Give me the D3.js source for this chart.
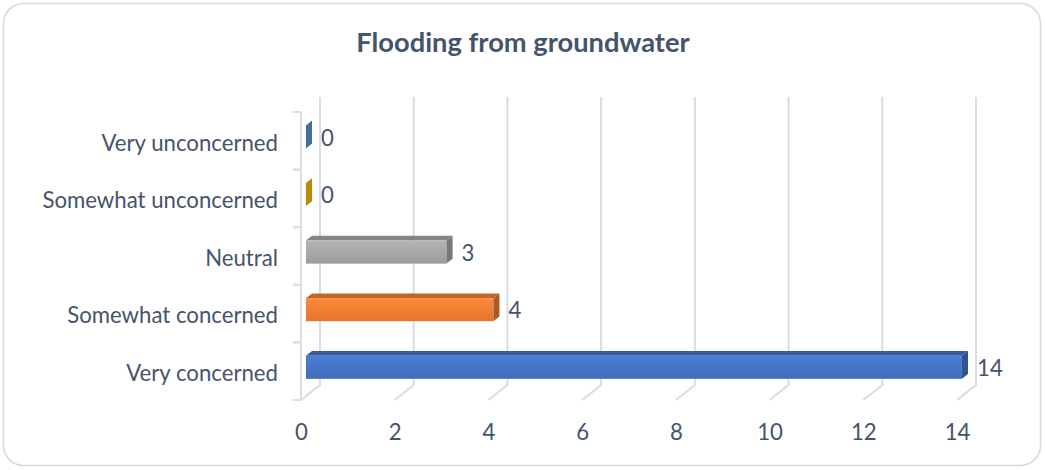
<!DOCTYPE html>
<html><head><meta charset="utf-8">
<script src="https://cdn.jsdelivr.net/npm/d3@7"></script>
<style>html,body{margin:0;padding:0;background:#fff;} svg{display:block;}</style>
</head><body>
<svg id="chart" width="1045" height="470"></svg>
<script>
const title = "Flooding from groundwater";
const categories = ["Very concerned", "Somewhat concerned", "Neutral", "Somewhat unconcerned", "Very unconcerned"];
const values = [14, 4, 3, 0, 0];
const barColors = ["#4472c4", "#ed7d31", "#a5a5a5", "#ffc000", "#5b9bd5"];
const xTicks = [0, 2, 4, 6, 8, 10, 12, 14];

const W = 1045, H = 470;
const textColor = "#44546a", gridColor = "#d9dce4";
const font = "Lato, 'Open Sans', sans-serif";
const labelSize = 22.2;
const depth = {dx: 19, dy: -15};
const d0 = 0.26, d1 = 0.58;

const svg = d3.select("#chart");
const defs = svg.append("defs");

svg.append("rect").attr("x", 3.5).attr("y", 3.5).attr("width", 1037).attr("height", 462)
  .attr("rx", 20).attr("fill", "#fff").attr("stroke", "#d9d9d9").attr("stroke-width", 1.5);

svg.append("text").attr("x", 523).attr("y", 52).attr("text-anchor", "middle")
  .attr("font-family", font).attr("font-weight", 700).attr("font-size", 27.3)
  .attr("fill", textColor).text(title);

const x = d3.scaleLinear().domain([0, 14]).range([301, 957]);
const y = d3.scaleBand().domain(categories).range([400, 112]).padding(0);
const bw = y.bandwidth();

// gridlines (back wall + floor)
const g = svg.append("g");
xTicks.forEach(v => {
  const xf = x(v), xb = x(v) + depth.dx;
  g.append("path").attr("d", `M${xb},97 L${xb},${400 + depth.dy} L${xf},400`)
    .attr("fill", "none").attr("stroke", gridColor).attr("stroke-width", 2);
});
// left axis
g.append("line").attr("x1", 301).attr("x2", 301).attr("y1", 112).attr("y2", 400)
  .attr("stroke", gridColor).attr("stroke-width", 2);
categories.forEach(c => {
  [y(c), y(c) + bw].forEach(yy => {
    g.append("line").attr("x1", 293).attr("x2", 301).attr("y1", yy).attr("y2", yy)
      .attr("stroke", gridColor).attr("stroke-width", 2);
  });
});

// x axis labels
const xAxis = d3.axisBottom(x).tickValues(xTicks).tickSize(0).tickPadding(0);
const ax = svg.append("g").attr("transform", "translate(0,440)").call(xAxis);
ax.select(".domain").remove();
ax.selectAll("text").attr("font-family", font).attr("font-size", labelSize).attr("fill", textColor).attr("dy", 0);

// category labels
svg.append("g").selectAll("text").data(categories).join("text")
  .attr("x", 278).attr("y", c => y(c) + bw / 2 + 2).attr("dy", "0.35em")
  .attr("text-anchor", "end").attr("font-family", font).attr("font-size", labelSize)
  .attr("fill", textColor).text(c => c);

function shade(col, k) { return d3.color(col).darker(k).formatHex(); }
function light(col, k) { return d3.color(col).brighter(k).formatHex(); }

const bars = svg.append("g");
categories.forEach((c, i) => {
  const v = values[i], col = barColors[i];
  const gid = "grad" + i;
  const gr = defs.append("linearGradient").attr("id", gid).attr("x1", 0).attr("y1", 0).attr("x2", 0).attr("y2", 1);
  gr.append("stop").attr("offset", "0%").attr("stop-color", light(col, 0.25));
  gr.append("stop").attr("offset", "100%").attr("stop-color", shade(col, 0.15));

  const ox = depth.dx * d0, oy = depth.dy * d0;
  const ddx = depth.dx * (d1 - d0), ddy = depth.dy * (d1 - d0);
  const yt = y(c) + 0.3 * bw + oy, yb = y(c) + 0.7 * bw + oy;
  const x0 = x(0) + ox, x1 = x(v) + ox;
  if (v > 0) {
    bars.append("path").attr("d", `M${x0},${yt} L${x1},${yt} L${x1 + ddx},${yt + ddy} L${x0 + ddx},${yt + ddy}Z`)
      .attr("fill", shade(col, 0.6));
    bars.append("rect").attr("x", x0).attr("y", yt).attr("width", x1 - x0).attr("height", yb - yt)
      .attr("fill", `url(#${gid})`);
  }
  bars.append("path").attr("d", `M${x1},${yt} L${x1 + ddx},${yt + ddy} L${x1 + ddx},${yb + ddy} L${x1},${yb}Z`)
    .attr("fill", shade(col, 0.9));
  // value label
  svg.append("text").attr("x", x1 + ddx + 9).attr("y", (yt + yb) / 2 + 1).attr("dy", "0.35em")
    .attr("font-family", font).attr("font-size", labelSize).attr("fill", textColor).text(v);
});
</script>
</body></html>
